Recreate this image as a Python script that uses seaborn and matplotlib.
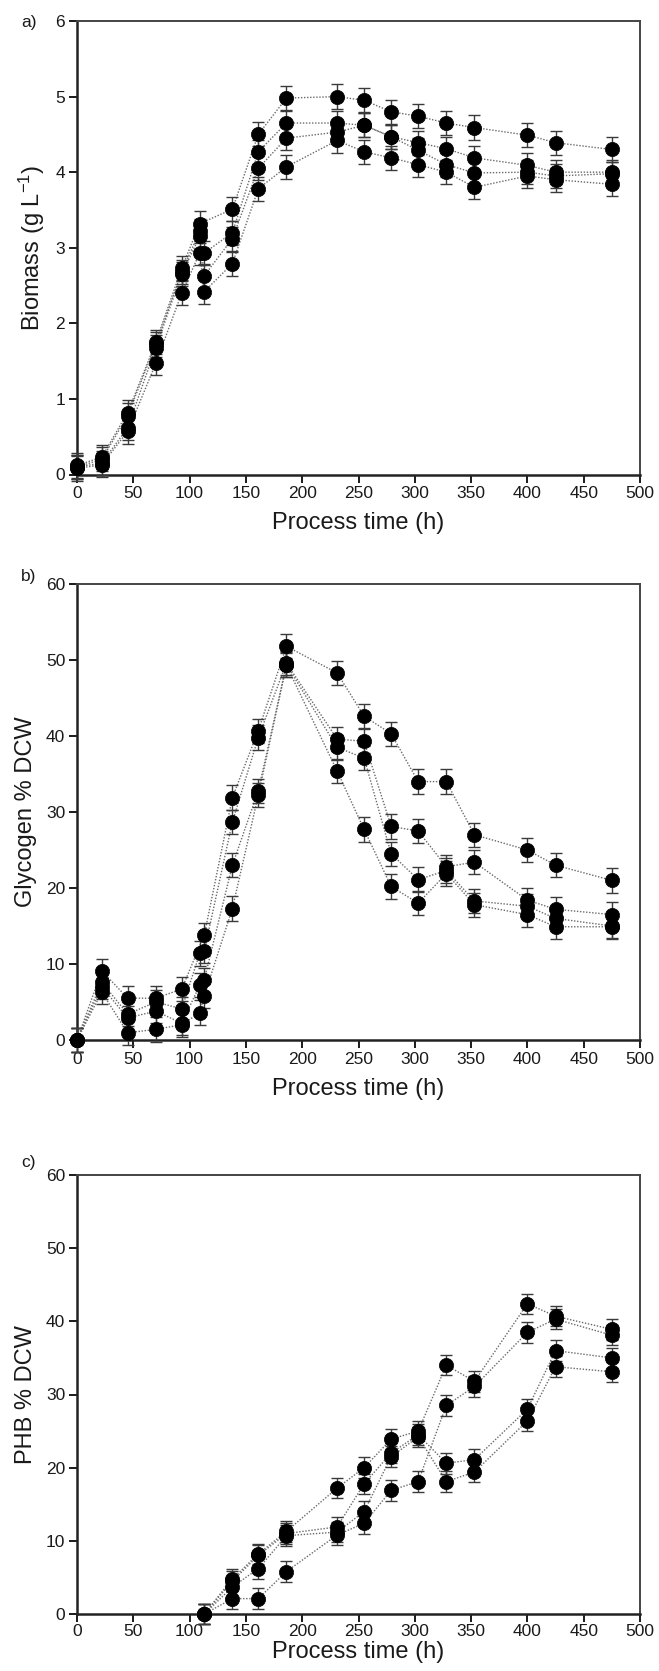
import numpy as np
import pandas as pd
import matplotlib
matplotlib.use("Agg")
import matplotlib.pyplot as plt
import seaborn as sns

# ---------------- data ----------------
time_h = [0, 22, 45, 70, 93, 109, 113, 138, 161, 186, 231, 255, 279, 303, 328, 353, 400, 425, 475]
nan = np.nan

biomass_s1 = [0.12, 0.23, 0.82, 1.75, 2.73, 3.32, nan, 3.51, 4.50, 4.98, 5.00, 4.95, 4.80, 4.74, 4.65, 4.59, 4.49, 4.39, 4.30]
biomass_s2 = [0.10, 0.20, 0.78, 1.72, 2.68, 3.22, 2.93, 3.20, 4.27, 4.65, 4.65, 4.62, 4.47, 4.39, 4.31, 4.19, 4.09, 4.00, 4.00]
biomass_s3 = [0.10, 0.15, 0.62, 1.68, 2.65, 3.15, 2.63, 3.12, 4.05, 4.45, 4.53, 4.62, 4.47, 4.29, 4.10, 3.99, 4.00, 3.95, 3.98]
biomass_s4 = [0.08, 0.13, 0.57, 1.47, 2.40, 2.93, 2.42, 2.79, 3.78, 4.07, 4.42, 4.27, 4.19, 4.10, 4.00, 3.80, 3.95, 3.90, 3.84]
biomass_err = [0.16] * len(time_h)

glyco_s1 = [0.0, 9.1, 5.5, 5.5, 6.7, nan, 13.8, 31.9, 40.7, 51.8, 48.3, 42.6, 40.3, 34.0, 34.0, 27.0, 25.0, 23.0, 21.0]
glyco_s2 = [0.0, 7.6, 3.4, 5.0, 4.1, 11.4, 11.7, 28.7, 39.8, 49.6, 39.6, 39.3, 28.1, 27.5, 22.8, 23.4, 18.4, 17.2, 16.5]
glyco_s3 = [0.0, 7.0, 2.9, 3.8, 2.2, 7.2, 7.9, 23.0, 32.8, 49.4, 38.5, 37.1, 24.5, 21.1, 22.3, 18.3, 17.6, 16.0, 15.0]
glyco_s4 = [0.0, 6.3, 0.95, 1.4, 2.0, 3.6, 5.8, 17.3, 32.2, 49.3, 35.4, 27.7, 20.2, 18.0, 21.9, 17.8, 16.5, 14.9, 14.9]
glyco_err = [1.6] * len(time_h)

phb_s1 = [nan, nan, nan, nan, nan, nan, 0.0, 4.8, 8.2, 11.3, 17.2, 20.0, 23.9, 25.0, 34.0, 31.8, 42.4, 40.7, 38.9]
phb_s2 = [nan, nan, nan, nan, nan, nan, 0.0, 3.7, 6.2, 10.7, 11.2, 14.0, 21.5, 24.2, 18.1, 19.4, 26.4, 33.8, 33.1]
phb_s3 = [nan, nan, nan, nan, nan, nan, 0.0, 4.5, 8.0, 11.0, 11.9, 17.8, 22.0, 24.5, 20.6, 21.1, 28.0, 36.0, 35.0]
phb_s4 = [nan, nan, nan, nan, nan, nan, 0.0, 2.1, 2.1, 5.8, 10.8, 12.4, 16.9, 18.1, 28.5, 31.1, 38.5, 40.3, 38.1]
phb_err = [1.4] * len(time_h)

x_ticks = [0, 50, 100, 150, 200, 250, 300, 350, 400, 450, 500]
panel_labels = ["a)", "b)", "c)"]
y_labels = ["Biomass (g L$^{\\mathregular{-1}}$)", "Glycogen % DCW", "PHB % DCW"]
x_label = "Process time (h)"

# ---------------- style ----------------
sns.set_style("ticks")
plt.rcParams["font.family"] = ["Liberation Sans", "DejaVu Sans"]
plt.rcParams["mathtext.fontset"] = "custom"
plt.rcParams["mathtext.rm"] = "Liberation Sans"
plt.rcParams["mathtext.default"] = "regular"

fig = plt.figure(figsize=(6.59, 16.71), dpi=100)

left, width = 77 / 659, 563 / 659
panels = [
    (1 - 474.5 / 1671, 453.5 / 1671),
    (1 - 1040 / 1671, 456 / 1671),
    (1 - 1614 / 1671, 439 / 1671),
]
xlabel_pads = [8, 8, 1]
tick_pads = [2.5, 2.5, 1.5]

datasets = [
    ([biomass_s1, biomass_s2, biomass_s3, biomass_s4], biomass_err, (0, 6), [0, 1, 2, 3, 4, 5, 6]),
    ([glyco_s1, glyco_s2, glyco_s3, glyco_s4], glyco_err, (0, 60), [0, 10, 20, 30, 40, 50, 60]),
    ([phb_s1, phb_s2, phb_s3, phb_s4], phb_err, (0, 60), [0, 10, 20, 30, 40, 50, 60]),
]
label_y = [1 - 23 / 1671, 1 - 576 / 1671, 1 - 1162 / 1671]

for i, ((series, err, ylim, yticks), (bot, h)) in enumerate(zip(datasets, panels)):
    ax = fig.add_axes([left, bot, width, h])
    rows = []
    for k, s in enumerate(series):
        for t, v in zip(time_h, s):
            if not np.isnan(v):
                rows.append({"time": t, "value": v, "series": f"S{k+1}"})
    df = pd.DataFrame(rows)

    sns.lineplot(data=df, x="time", y="value", units="series", estimator=None,
                 color="#6a6a6a", linestyle=(0, (1, 1.2)), linewidth=1.0,
                 sort=True, ax=ax, zorder=2)
    for s in series:
        arr = np.array(s, dtype=float)
        m = ~np.isnan(arr)
        ax.errorbar(np.array(time_h)[m], arr[m], yerr=np.array(err)[m], fmt="none",
                    ecolor="#3a3a3a", elinewidth=1.0, capsize=4, capthick=1.0,
                    zorder=3, clip_on=False)
    sns.scatterplot(data=df, x="time", y="value", color="black", s=105,
                    edgecolor="black", linewidth=0.5, ax=ax, zorder=4, clip_on=False,
                    legend=False)

    ax.set_xlim(0, 500)
    ax.set_ylim(*ylim)
    ax.set_xticks(x_ticks)
    ax.set_yticks(yticks)
    ax.set_xlabel(x_label, fontsize=17, color="#1a1a1a", labelpad=xlabel_pads[i])
    ax.set_ylabel(y_labels[i], fontsize=17, color="#1a1a1a", labelpad=6)
    ax.tick_params(axis="both", labelsize=12.5, colors="#1a1a1a", length=6, width=1.4,
                   direction="out")
    ax.tick_params(axis="x", pad=tick_pads[i])
    ax.tick_params(axis="y", pad=2.5)
    for side in ["left", "bottom"]:
        ax.spines[side].set_linewidth(1.8)
        ax.spines[side].set_color("#222222")
    for side in ["top", "right"]:
        ax.spines[side].set_visible(True)
        ax.spines[side].set_linewidth(1.4)
        ax.spines[side].set_color("#444444")
    fig.text(29 / 659, label_y[i], panel_labels[i], fontsize=12.5, ha="center",
             va="center", color="#1a1a1a")

fig.savefig("out.png", dpi=100)
